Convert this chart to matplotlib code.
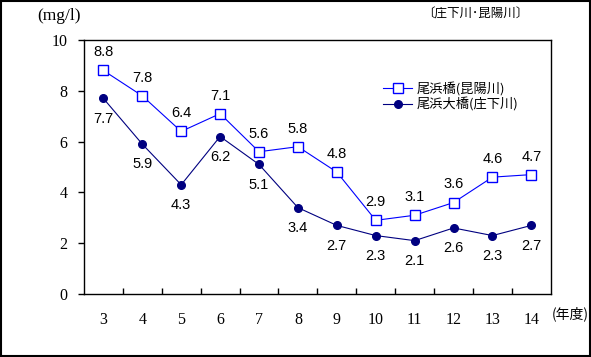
import numpy as np
import matplotlib
matplotlib.use('Agg')
import matplotlib.pyplot as plt
from matplotlib.patches import Rectangle
from matplotlib.lines import Line2D

plt.rcParams['font.family'] = ['Noto Sans CJK JP', 'DejaVu Sans']

# data
years = [3, 4, 5, 6, 7, 8, 9, 10, 11, 12, 13, 14]
obamabashi = [8.8, 7.8, 6.4, 7.1, 5.6, 5.8, 4.8, 2.9, 3.1, 3.6, 4.6, 4.7]
obamaohashi = [7.7, 5.9, 4.3, 6.2, 5.1, 3.4, 2.7, 2.3, 2.1, 2.6, 2.3, 2.7]
label1 = '尾浜橋(昆陽川)'
label2 = '尾浜大橋(庄下川)'
yticks = [0, 2, 4, 6, 8, 10]

blue = '#0000FF'
navy = '#000080'
numFont = 'Liberation Serif'
lblFont = 'Liberation Sans'

fig = plt.figure(figsize=(5.91, 3.57), dpi=100)
ax = fig.add_axes([0.142, 0.1765, 0.790, 0.7115])

x = np.array(years)
ax.plot(x, obamabashi, color=blue, linewidth=0.8, marker='s', markersize=6.5,
        markerfacecolor='white', markeredgecolor=blue, markeredgewidth=1.0)
ax.plot(x, obamaohashi, color=navy, linewidth=0.8, marker='o', markersize=5.5,
        markerfacecolor=navy, markeredgecolor=navy)

# data labels: upper series above, lower series below
for xi, v in zip(x, obamabashi):
    ax.annotate('%.1f' % v, (xi, v), textcoords='offset points', xytext=(0, 13),
                ha='center', va='center', fontsize=10.5, family=lblFont)
for xi, v in zip(x, obamaohashi):
    ax.annotate('%.1f' % v, (xi, v), textcoords='offset points', xytext=(0, -14.5),
                ha='center', va='center', fontsize=10.5, family=lblFont)

ax.set_xlim(2.5, 14.5)
ax.set_ylim(0, 10)
ax.set_yticks(yticks)
ax.set_xticks(years)
ax.set_xticks(np.arange(3.5, 14, 1), minor=True)
ax.tick_params(axis='x', which='major', length=0, pad=13)
ax.tick_params(axis='x', which='minor', direction='in', length=4, width=1)
ax.tick_params(axis='y', direction='out', length=4, width=1, pad=8)
for lab in ax.get_xticklabels() + ax.get_yticklabels():
    lab.set_family(numFont)
    lab.set_fontsize(11.5)
for sp in ax.spines.values():
    sp.set_linewidth(1.0)

handles = [
    Line2D([], [], color=blue, linewidth=0.8, marker='s', markersize=6.5,
           markerfacecolor='white', markeredgecolor=blue),
    Line2D([], [], color=navy, linewidth=0.8, marker='o', markersize=5.5,
           markerfacecolor=navy, markeredgecolor=navy),
]
ax.legend(handles, [label1, label2], loc='upper left', bbox_to_anchor=(0.63, 0.855),
          frameon=False, fontsize=9.5, handlelength=2.2, handletextpad=0.3,
          labelspacing=0.1, borderaxespad=0)

fig.text(37 / 591, 1 - 16 / 357, '(mg/l)', family=numFont, fontsize=12.5,
         ha='left', va='center')
fig.text(475 / 591, 1 - 14 / 357, '〔庄下川･昆陽川〕', fontsize=9,
         ha='center', va='center')
fig.text(570 / 591, 1 - 314 / 357, '(年度)', fontsize=10,
         ha='center', va='center')

fig.patches.append(Rectangle((0.001, 0.002), 0.997, 0.995, transform=fig.transFigure,
                             fill=False, edgecolor='black', linewidth=1.5))

fig.savefig('out.png', dpi=100)
